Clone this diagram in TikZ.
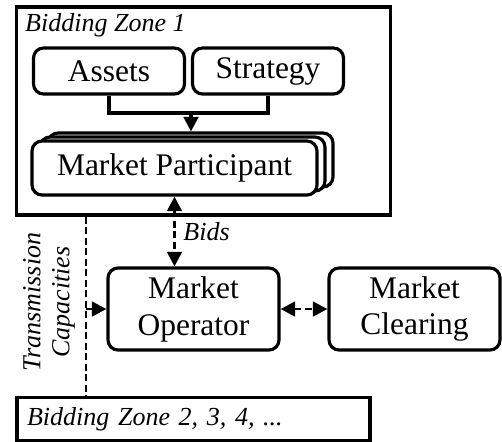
\documentclass[tikz,border=0pt]{standalone}
\usepackage{fontspec}
\setmainfont{Liberation Serif}
\usetikzlibrary{arrows.meta}

\newcommand{\boxfont}{\fontsize{17.9}{21}\selectfont}
\newcommand{\tagfont}{\fontsize{14.8}{16.4}\selectfont\itshape}

\begin{document}
\begin{tikzpicture}[x=0.02cm, y=-0.02cm,
    >={Triangle[length=0.29cm, width=0.29cm]},
    zone/.style={draw, line width=1.9pt, inner sep=0pt},
    block/.style={draw, line width=1.8pt, rounded corners=0.2cm, fill=white,
      align=center, font=\boxfont, inner sep=0pt},
    link/.style={line width=1.8pt},
    dashlink/.style={line width=1.6pt, dash pattern=on 0.14cm off 0.07cm},
    tag/.style={font=\tagfont}]
  \useasboundingbox (0,0) rectangle (502,441);

  % bidding zones
  \node[zone, minimum width=7.48cm, minimum height=4.16cm] (bz1) at (203.5,111) {};
  \node[tag, anchor=north west, inner sep=0pt] (bz1name)
    at ([xshift=0.2cm, yshift=-0.16cm]bz1.north west) {Bidding Zone 1};
  \node[zone, tag, minimum height=0.8cm, text width=6.66cm, inner sep=0.2cm,
    align=left] (bz2) at (193.5,419) {Bidding Zone 2, 3, 4, ...};

  % participant side
  \node[block, minimum width=3.02cm, minimum height=0.92cm] (assets) at (109,71) {Assets};
  \node[block, minimum width=3.02cm, minimum height=0.92cm] (strategy) at (268,71) {Strategy};
  \node[block, minimum width=5.7cm, minimum height=1.08cm] (mpback) at (190.5,160) {};
  \node[block, minimum width=5.7cm, minimum height=1.08cm] (mpmid) at (182.5,164) {};
  \node[block, minimum width=5.7cm, minimum height=1.08cm] (mp) at (174.5,168) {Market Participant};

  % market side
  \node[block, minimum width=3.42cm, minimum height=1.64cm] (mo) at (193.5,309) {Market\\Operator};
  \node[block, minimum width=3.42cm, minimum height=1.64cm] (mc) at (414.5,309) {Market\\Clearing};

  % connectors
  \coordinate (join) at (191,113);
  \draw[link] (assets.south) |- (join) -| (strategy.south);
  \draw[link, ->] (join) -- (join |- mpback.north);
  \draw[dashlink, <->] (mp.south) -- (mp.south |- mo.north)
    node[midway, right, tag, inner sep=0.15cm] {Bids};
  \draw[dashlink, <->] (mo) -- (mc);

  % interconnection to the other zones
  \coordinate (tc) at (86,309);
  \draw[dashlink] (bz1.south -| tc) -- (bz2.north -| tc);
  \draw[dashlink, ->] (tc) -- (mo.west);
  \node[tag, rotate=90, align=center] (tcname) at (49,302) {Transmission\\Capacities};
\end{tikzpicture}
\end{document}
